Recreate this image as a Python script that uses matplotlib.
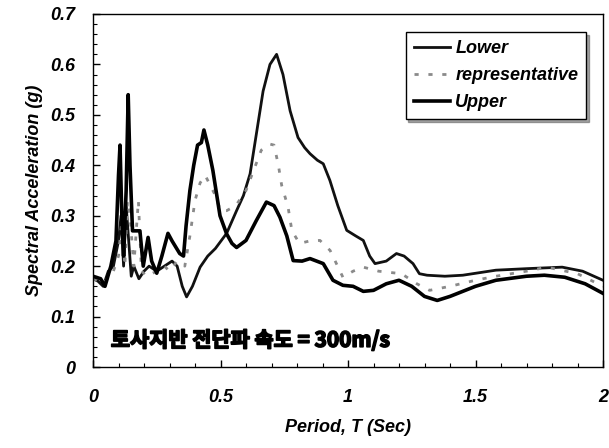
import matplotlib
matplotlib.use("Agg")
import matplotlib.pyplot as plt
import matplotlib.patheffects as pe
from matplotlib.ticker import MultipleLocator

# ---- data ----
lower_x = [0, 0.02, 0.04, 0.06, 0.08, 0.1, 0.11, 0.12, 0.13, 0.14, 0.15, 0.16, 0.18, 0.2, 0.22,
           0.25, 0.28, 0.31, 0.33, 0.35, 0.367, 0.39, 0.42, 0.45, 0.48, 0.524, 0.563, 0.59, 0.616,
           0.64, 0.667, 0.694, 0.72, 0.745, 0.773, 0.804, 0.83, 0.851, 0.88, 0.903, 0.929, 0.96,
           0.995, 1.03, 1.06, 1.085, 1.106, 1.15, 1.19, 1.22, 1.255, 1.28, 1.31, 1.38, 1.45, 1.58,
           1.7, 1.84, 1.92, 2.0]
lower_y = [0.175, 0.17, 0.16, 0.19, 0.2, 0.25, 0.3, 0.2, 0.32, 0.25, 0.18, 0.2, 0.175, 0.19, 0.2,
           0.19, 0.2, 0.21, 0.2, 0.16, 0.139, 0.16, 0.198, 0.22, 0.235, 0.265, 0.31, 0.34, 0.383,
           0.46, 0.547, 0.60, 0.62, 0.58, 0.508, 0.455, 0.435, 0.423, 0.41, 0.403, 0.37, 0.32,
           0.271, 0.26, 0.251, 0.22, 0.205, 0.21, 0.225, 0.22, 0.205, 0.185, 0.182, 0.18, 0.182,
           0.192, 0.195, 0.198, 0.19, 0.172]

rep_x = [0, 0.04, 0.08, 0.1, 0.115, 0.125, 0.135, 0.145, 0.16, 0.178, 0.19, 0.21, 0.25, 0.28, 0.3,
         0.33, 0.36, 0.38, 0.4, 0.42, 0.44, 0.46, 0.48, 0.5, 0.524, 0.56, 0.6, 0.63, 0.66, 0.694,
         0.71, 0.727, 0.74, 0.765, 0.78, 0.81, 0.85, 0.89, 0.93, 0.98, 1.02, 1.06, 1.12, 1.21,
         1.27, 1.32, 1.4, 1.5, 1.58, 1.7, 1.78, 1.9, 2.0]
rep_y = [0.175, 0.165, 0.19, 0.22, 0.3, 0.2, 0.33, 0.3, 0.2, 0.33, 0.19, 0.18, 0.19, 0.2, 0.19,
         0.21, 0.2, 0.26, 0.33, 0.365, 0.38, 0.36, 0.34, 0.31, 0.31, 0.32, 0.35, 0.39, 0.43, 0.442,
         0.44, 0.40, 0.36, 0.317, 0.27, 0.245, 0.25, 0.251, 0.231, 0.178, 0.19, 0.198, 0.19, 0.185,
         0.165, 0.152, 0.16, 0.172, 0.18, 0.19, 0.198, 0.185, 0.16]

upper_x = [0, 0.03, 0.047, 0.07, 0.09, 0.1, 0.106, 0.113, 0.12, 0.13, 0.138, 0.145, 0.155, 0.17,
           0.184, 0.197, 0.216, 0.23, 0.25, 0.27, 0.294, 0.31, 0.34, 0.355, 0.365, 0.38, 0.395,
           0.41, 0.425, 0.435, 0.45, 0.47, 0.498, 0.524, 0.545, 0.563, 0.60, 0.64, 0.68, 0.71,
           0.733, 0.76, 0.785, 0.82, 0.851, 0.903, 0.941, 0.98, 1.02, 1.06, 1.10, 1.15, 1.20,
           1.25, 1.30, 1.35, 1.40, 1.5, 1.58, 1.7, 1.77, 1.85, 1.93, 2.0]
upper_y = [0.18, 0.175, 0.16, 0.2, 0.25, 0.38, 0.44, 0.3, 0.22, 0.35, 0.54, 0.4, 0.27, 0.27,
           0.27, 0.2, 0.257, 0.21, 0.186, 0.22, 0.265, 0.25, 0.225, 0.22, 0.28, 0.35, 0.40,
           0.44, 0.445, 0.47, 0.44, 0.39, 0.30, 0.264, 0.245, 0.237, 0.251, 0.29, 0.327, 0.32,
           0.297, 0.26, 0.211, 0.21, 0.215, 0.205, 0.172, 0.162, 0.16, 0.15, 0.152, 0.165, 0.172,
           0.16, 0.14, 0.132, 0.14, 0.16, 0.172, 0.18, 0.182, 0.178, 0.165, 0.146]

series_names = ["Lower", "representative", "Upper"]
x_ticks = [0, 0.5, 1, 1.5, 2]
x_tick_labels = ["0", "0.5", "1", "1.5", "2"]
y_ticks = [0, 0.1, 0.2, 0.3, 0.4, 0.5, 0.6, 0.7]
y_tick_labels = ["0", "0.1", "0.2", "0.3", "0.4", "0.5", "0.6", "0.7"]
annotation = "토사지반 전단파 속도 = 300m/s"

plt.rcParams['font.family'] = ['Liberation Sans', 'DejaVu Sans']

fig = plt.figure(figsize=(6.09, 4.48), dpi=100)
ax = fig.add_axes([93/609, 1 - 367/448, (603 - 93)/609, (367 - 14)/448])

ax.plot(lower_x, lower_y, color='#111111', lw=2.0, label=series_names[0])
ax.plot(rep_x, rep_y, color='#8a8a8a', lw=2.0, linestyle=(0, (1.5, 3.5)), label=series_names[1])
ax.plot(upper_x, upper_y, color='black', lw=2.6, label=series_names[2])

ax.set_xlim(0, 2)
ax.set_ylim(0, 0.7)
ax.set_xticks(x_ticks)
ax.set_xticklabels(x_tick_labels)
ax.set_yticks(y_ticks)
ax.set_yticklabels(y_tick_labels)
ax.xaxis.set_minor_locator(MultipleLocator(0.1))
ax.yaxis.set_minor_locator(MultipleLocator(0.02))
ax.tick_params(which='both', direction='in', top=False, right=False)
ax.tick_params(which='major', length=5, width=1)
ax.tick_params(which='minor', length=3, width=0.8)
ax.tick_params(axis='x', pad=16)
ax.tick_params(axis='y', pad=13)
for lab in ax.get_xticklabels() + ax.get_yticklabels():
    lab.set_fontsize(13)
    lab.set_fontweight('bold')
    lab.set_fontstyle('italic')

ax.set_xlabel("Period, T (Sec)", fontsize=13, fontweight='bold', fontstyle='italic', labelpad=9)
ax.set_ylabel("Spectral Acceleration (g)", fontsize=13, fontweight='bold', fontstyle='italic', labelpad=5)

for sp in ax.spines.values():
    sp.set_linewidth(1.0)

leg = ax.legend(loc='upper right', bbox_to_anchor=(0.985, 0.975),
                prop={'weight': 'bold', 'style': 'italic', 'size': 13},
                handlelength=2.0, handletextpad=0.3, borderpad=0.45, labelspacing=0.55,
                fancybox=False, shadow=True, framealpha=1, edgecolor='black')
leg.get_frame().set_linewidth(1.0)

ax.text(0.07, 0.053, annotation, fontsize=15, fontweight='bold',
        family=['Noto Sans CJK KR', 'DejaVu Sans'], va='center', ha='left',
        path_effects=[pe.withStroke(linewidth=1.2, foreground='black')])

fig.savefig("out.png", dpi=100)
